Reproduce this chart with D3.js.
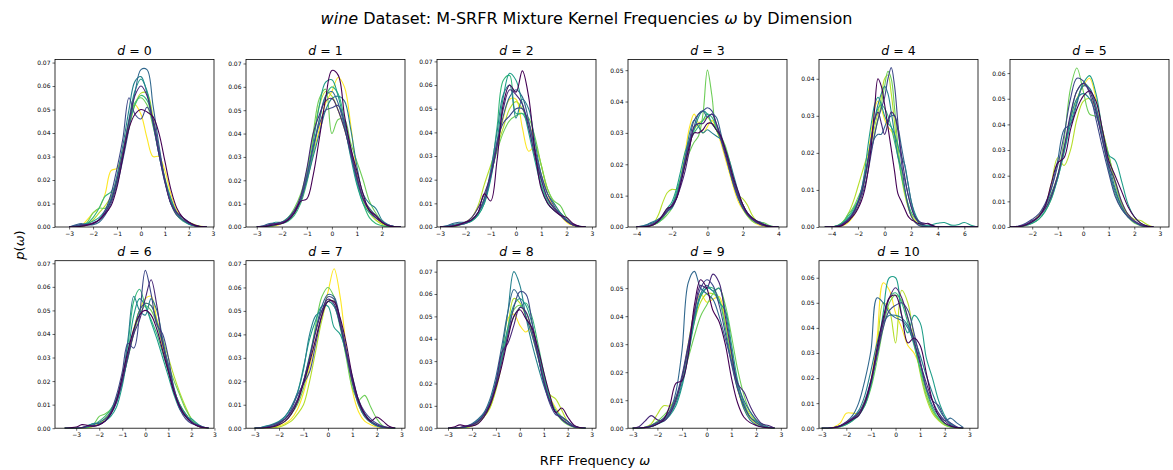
<!DOCTYPE html>
<html>
<head>
<meta charset="utf-8">
<script src="https://cdn.jsdelivr.net/npm/d3@7"></script>
<style>
  body { margin: 0; background: #fff; }
  svg text { font-family: "DejaVu Sans", sans-serif; fill: #000; }
</style>
</head>
<body>
<svg></svg>
<script>
// evaluation grids for the KDE curves (omega)
var gridA = [-3, -2.75, -2.5, -2.25, -2, -1.75, -1.5, -1.25, -1, -0.75, -0.5, -0.25, 0, 0.25, 0.5, 0.75, 1, 1.25, 1.5, 1.75, 2, 2.25, 2.5, 2.75];
var gridD3 = [-4, -3.75, -3.5, -3.25, -3, -2.75, -2.5, -2.25, -2, -1.75, -1.5, -1.25, -1, -0.75, -0.5, -0.25, 0, 0.25, 0.5, 0.75, 1, 1.25, 1.5, 1.75, 2, 2.25, 2.5, 2.75, 3, 3.25, 3.5, 3.75, 4];
var gridD4 = [-4.5, -4.25, -4, -3.75, -3.5, -3.25, -3, -2.75, -2.5, -2.25, -2, -1.75, -1.5, -1.25, -1, -0.75, -0.5, -0.25, 0, 0.25, 0.5, 0.75, 1, 1.25, 1.5, 1.75, 2, 2.25, 2.5, 2.75, 3, 3.25, 3.5, 3.75, 4, 4.5, 5, 5.5, 6, 6.5, 7];
var gridD6 = [-3.5, -3.25, -3, -2.75, -2.5, -2.25, -2, -1.75, -1.5, -1.25, -1, -0.75, -0.5, -0.25, 0, 0.25, 0.5, 0.75, 1, 1.25, 1.5, 1.75, 2, 2.25, 2.5, 2.75];

var dimensions = [0, 1, 2, 3, 4, 5, 6, 7, 8, 9, 10];
var xLimits = [[-3.59, 3.05], [-3.43, 2.92], [-3.12, 3.16], [-4.47, 4.48], [-4.94, 7.03], [-2.87, 3.36],
               [-3.92, 2.98], [-3.35, 3.15], [-3.46, 3.18], [-3.19, 3.25], [-3.11, 3.35]];
var yMax = [0.0713, 0.0717, 0.0708, 0.0534, 0.0452, 0.0653, 0.0711, 0.0714, 0.0749, 0.0598, 0.0668];
var xTicks = [[-3,-2,-1,0,1,2,3], [-3,-2,-1,0,1,2], [-3,-2,-1,0,1,2,3], [-4,-2,0,2,4], [-4,-2,0,2,4,6], [-2,-1,0,1,2,3],
              [-3,-2,-1,0,1,2,3], [-3,-2,-1,0,1,2,3], [-3,-2,-1,0,1,2,3], [-3,-2,-1,0,1,2,3], [-3,-2,-1,0,1,2,3]];
var yTicks = [[0,0.01,0.02,0.03,0.04,0.05,0.06,0.07], [0,0.01,0.02,0.03,0.04,0.05,0.06,0.07], [0,0.01,0.02,0.03,0.04,0.05,0.06,0.07],
              [0,0.01,0.02,0.03,0.04,0.05], [0,0.01,0.02,0.03,0.04], [0,0.01,0.02,0.03,0.04,0.05,0.06],
              [0,0.01,0.02,0.03,0.04,0.05,0.06,0.07], [0,0.01,0.02,0.03,0.04,0.05,0.06,0.07], [0,0.01,0.02,0.03,0.04,0.05,0.06,0.07],
              [0,0.01,0.02,0.03,0.04,0.05], [0,0.01,0.02,0.03,0.04,0.05,0.06]];

// density values p(omega), in units of 1e-3, one row per mixture component
var dens0 = [
  [0,0,0.3,0.8,1.5,3,5.5,9,17,30,42,48,50,49,47,40,28,16,8,4,2,0.8,0.2,0],
  [0,0,0.5,1,1.8,3,6,11,20,32,45,56,60,56,45,31,19,10,6,4,2,0.6,0.1,0],
  [0,0.5,1,1,1.5,3,7,14,25,38,55,48,46,51,46,33,20,10,5,3,1.5,0.5,0.1,0],
  [0,0.8,1.5,1,1,2,5,10,18,29,42,57,67,67,52,35,20,10,6,4,2,0.6,0.1,0],
  [0,0.3,1,1.2,1.5,3,6,12,22,35,50,62,64,57,44,31,20,12,6,3,1.5,0.5,0.1,0],
  [0,0.2,0.8,1.5,2.5,4,7,12,20,32,46,58,63,58,45,31,19,11,6,3,1.2,0.4,0.1,0],
  [0,0,0.5,1.5,4,8,13,15,19,31,43,52,56,54,45,32,20,10,5,2.5,1.2,0.5,0.1,0],
  [0,0,0.5,2,6,8,8,11,19,31,44,53,55,52,43,32,21,12,6,3,1.5,0.6,0.2,0],
  [0,0,0.3,1,3,6,9,13,21,32,42,52,57,57,47,33,20,10,5,3,2,1,0.3,0],
  [0,0,0.5,3,6,8,14,24,25,33,45,52,48,38,30,30,24,14,7,3,1.5,0.6,0.2,0]
];
var dens1 = [
  [0,0,0.5,1,1.5,3,6,11,12,22,38,55,67,65,48,34,24,14,7,5,2,0.5,0.1,0],
  [0,0.3,1,1.5,2,3.5,7,13,25,40,48,54,55,50,42,32,21,12,7,4,2,0.6,0.1,0],
  [0,0.2,0.8,1.5,2,3,6,11,21,34,44,50,51,52,45,34,22,12,7,4,2,0.8,0.2,0],
  [0,0.5,1.5,1.5,1.5,3,6,12,22,34,46,56,58,53,43,31,20,12,8,5,2.5,0.8,0.2,0],
  [0,0.2,0.5,1,2,4,7,12,20,30,40,50,55,56,54,42,26,14,10,8,3,1,0.2,0],
  [0,0.2,1,2,2,3,6,12,22,36,52,62,63,56,44,30,18,10,6,4,2,0.6,0.1,0],
  [0,0,0.3,1,1.5,2.5,5,10,19,32,46,56,60,57,46,32,19,10,4,1.5,0.6,0.2,0,0],
  [0,0,0.2,0.8,2,4,8,14,24,40,55,59,40,46,46,36,28,20,11,6,2.5,0.8,0.2,0],
  [0,0,0.3,1,2,3,6,12,24,38,52,58,56,50,42,32,21,11,6,3,1.2,0.4,0.1,0],
  [0,0,0.2,0.5,1.5,3,6,11,20,31,42,53,58,64,60,44,23,12,8,4,1.5,0.5,0.1,0]
];
var dens2 = [
  [0,0,0.3,1,2,3,6,14,11,28,52,60,57,66,55,32,16,10,7,5,4,1.5,0.3,0],
  [0,0,0.5,1,2,4,8,14,22,34,50,58,56,52,42,30,20,12,8,5,2.5,0.8,0.2,0],
  [0,0.2,0.6,1,1.5,3,6,12,22,36,44,47,50,50,44,33,22,14,9,5,2.5,1,0.3,0],
  [0,0.5,1.5,2,2,3,6,11,21,34,47,55,58,55,45,32,20,12,8,6,3,1,0.3,0],
  [0,0.3,1,1.5,2,3,6,12,24,40,56,60,46,54,50,36,22,14,10,6,3,1,0.2,0],
  [0,0,0.5,1,1.5,2.5,5,10,20,36,55,65,62,52,40,28,17,10,7,5,2.5,0.8,0.2,0],
  [0,0,0.3,0.8,1.5,2.5,5,10,22,42,62,64,48,48,42,30,18,11,8,6,3,1,0.2,0],
  [0,0,0.3,1,2,3,6,12,22,32,40,45,47,48,46,38,26,16,11,9,4,1,0.2,0],
  [0,0,0.2,0.8,2,4,9,18,26,34,42,50,53,50,44,36,26,16,10,6,3,1,0.2,0],
  [0,0,0.3,1,2,3,6,12,22,34,46,54,54,42,32,34,26,14,8,5,2,0.6,0.1,0]
];
var dens3 = [
  [0,0,0.1,0.3,0.8,2,4,6,6.5,9,14,20,26,30,30,31,33,33,31,29,25,20,15,11,7,4.5,3,2,1.2,0.6,0.2,0,0],
  [0,0,0.1,0.4,1,2,3.5,5.5,7,9,13,18,25,32,33,33,35,36,33,29,24,19,14,10,7,4,2.5,1.5,0.8,0.4,0.1,0,0],
  [0,0,0.2,0.5,1.2,2,3.5,5,6.5,9,15,22,28,34,36,37,38,37,33,28,23,18,13,9,6,4,2.5,1.5,0.8,0.4,0.1,0,0],
  [0,0.2,0.5,1,1.5,2.5,3.5,5,7,10,15,21,27,32,36,37,35,36,35,30,24,18,13,9,6,4,3,2,1.5,0.8,0.3,0.1,0],
  [0,0.2,0.6,1.2,1.8,2.5,3.5,5,6,9,14,22,30,34,32,30,31,30,29,28,25,21,16,11,7,4.5,3,2,1,0.5,0.2,0,0],
  [0,0,0.2,0.5,1,2,4,6,8,12,18,24,28,31,35,37,36,33,31,28,24,19,14,10,7,4.5,3,1.8,1,0.5,0.2,0,0],
  [0,0,0.1,0.3,0.8,1.5,3,5,7,11,16,22,27,30,32,34,36,35,32,29,25,19,14,9,6,4,2.5,1.5,0.8,0.4,0.1,0,0],
  [0,0,0.1,0.3,0.8,1.5,2.5,4,6,10,15,20,24,27,29,36,50,42,31,29,26,21,15,10,6,3.5,2,1.2,1.5,1.2,0.5,0.1,0],
  [0,0,0.2,0.5,1.5,4,8,11,12,12,15,20,26,31,33,34,35,33,31,28,24,18,13,10,9,7,4,2,1,0.4,0.1,0,0],
  [0,0,0.1,0.3,0.8,1.5,3,5,7,10,16,24,32,36,33,30,32,34,31,27,22,17,12,8,5.5,3.5,2,1,0.5,0.2,0,0,0]
];
var dens4 = [
  [0,0,0,0,0.1,0.3, 0.8,1.5,2.5,3.5,5,7,10,15, 22,32,40,38,33,27,21,15, 9,7,5,3,2,1.5,1,0.8, 0.8,1,0.6,0.2,0, 0,0,0,0,0,0],
  [0,0,0,0.1,0.3,0.6, 1.2,2,3,4.5,6.5,9,13,18, 24,29,31,28,25,28,31,30, 26,20,14,9,5.5,3,1.8,1.2, 1,0.8,0.5,0.2,0, 0,0,0,0,0,0],
  [0,0,0,0.1,0.2,0.5, 1,1.5,2.5,4,5.5,8,11,15, 20,25,29,32,35,40,43,38, 28,18,11,6,3,1.5,0.6,0.2, 0.1,0,0,0,0, 0,0,0,0,0,0],
  [0,0,0,0.1,0.3,0.6, 1.2,2,3,4.5,7,10,14,18, 21,24,25,25,27,29,30,30, 27,22,17,12,7,3.5,1.5,0.6, 0.2,0.1,0,0,0, 0,0,0,0,0,0],
  [0,0,0,0.1,0.3,0.7, 1.3,2,3,4.5,6.5,9,13,18, 24,29,33,36,38,36,31,25, 19,16,13,9,5.5,3,1.5,0.8, 0.4,0.2,0.1,0,0, 0,0,0,0,0,0],
  [0,0,0,0.1,0.3,0.8, 1.5,2.5,3.5,5,7,10,15,22, 28,33,35,33,30,28,27,25, 22,19,17,12,7,4,2,1, 0.5,0.3,0.5,0.8,1, 1.2,0.5,0.6,1.2,0.5,0],
  [0,0,0,0.2,0.5,1, 1.8,3,4,5.5,7,9,13,18, 24,29,32,33,32,30,27,23, 19,14,10,6.5,4,2.5,1.5,1, 0.5,0.2,0,0,0, 0,0,0,0,0,0],
  [0,0,0,0.2,0.5,1, 2,3.5,4.5,6,8,10,13,17, 21,25,29,33,38,42,40,32, 22,15,10,6,3,1.5,0.8,0.3, 0.1,0,0,0,0, 0,0,0,0,0,0],
  [0,0,0,0.1,0.4,1, 2,3.5,5.5,8,11,14,17,20, 23,27,31,35,40,41,36,28, 20,14,9,5.5,3,1.5,0.8,0.3, 0.1,0,0,0,0, 0,0,0,0,0,0],
  [0,0,0,0,0.1,0.3, 0.6,1.2,2.2,3.5,5.5,8.5,13,19, 26,32,34,32,29,27,26,24, 20,15,10,6,3.5,2,1,0.5, 0.2,0.1,0,0,0, 0,0,0,0,0,0]
];
var dens5 = [
  [0,0,0.2,0.8,2,4,8,17,25,27,38,46,51,53,49,38,26,20,14,8,4,1.5,0.4,0],
  [0,0,0.3,1,2.5,4,7,12,20,31,44,53,56,53,45,34,24,18,10,5,2.5,1,0.3,0],
  [0,0,0.5,1.5,3,5,9,15,24,36,50,58,57,52,42,31,21,12,7,4,2,0.8,0.2,0],
  [0,0,0.3,1,2,4,8,15,26,38,40,48,55,54,47,35,23,14,8,4,2,0.6,0.1,0],
  [0,0,0.2,0.8,2,4,8,13,20,30,42,50,52,50,44,35,25,15,8,4,2,0.8,0.2,0],
  [0,0,0.2,0.6,1.5,3,6,11,19,29,40,49,56,59,52,38,28,26,18,9,4,1.5,0.4,0],
  [0,0,0.2,0.8,2,4,7,12,19,30,43,53,56,54,46,34,22,13,7,4,2,0.8,0.2,0],
  [0,0,0.2,0.6,1.5,3,6,11,20,34,54,62,53,44,43,37,28,17,9,4,1.5,0.5,0.1,0],
  [0,0,0.2,0.8,2,4,8,17,27,24,30,42,49,50,46,38,28,18,10,5,3,2.5,1,0],
  [0,0,0.2,0.8,2,4.5,8,13,20,30,42,50,55,58,50,38,27,17,9,4.5,2,0.8,0.2,0]
];
var dens6 = [
  [0,0.2,0.5,1.5,1.2,0.8,1.5,3,6,12,22,33,42,48,50,48,42,33,24,15,9,5,2.5,1,0.3,0],
  [0,0,0,0.3,1,1,1.5,3,6,11,20,31,40,46,55,63,52,36,25,16,9,5,2.5,1,0.3,0],
  [0,0,0,0.2,0.8,1,1.5,3,7,14,24,36,34,48,67,57,44,40,30,16,8,4,2,1.5,0.5,0],
  [0,0,0,0.2,0.8,1.5,2.5,4,7,12,20,30,41,50,53,52,45,36,27,17,9,5,3,1.5,0.5,0],
  [0,0,0,0.3,1,2,2,3,6,11,20,38,56,50,48,55,50,38,26,16,10,6,3,1,0.3,0],
  [0,0,0,0.2,1,2,2,3,5,9,18,32,48,55,52,45,38,30,22,14,8,5,4,2,0.5,0],
  [0,0,0,0,0.5,1.5,3,5,8,13,22,36,54,59,52,46,40,32,24,16,10,6,3,1,0.3,0],
  [0,0,0,0,0.3,1.5,5,6,8,12,20,30,40,48,52,50,44,36,27,20,14,8,4,1.5,0.4,0],
  [0,0,0,0,0.2,0.8,2,4,7,12,20,31,42,50,53,52,46,38,30,22,15,9,4,1.5,0.4,0],
  [0,0,0,0,0.2,0.8,2,4,7,12,21,31,42,50,55,56,46,34,24,16,10,6,3,1,0.2,0]
];
var dens7 = [
  [0,0,0.2,0.6,1.5,3,6,11,19,28,38,48,54,54,47,36,22,12,6,3,4.8,3,0.8,0],
  [0,0,0.3,0.8,2,4,7,12,20,30,41,50,55,53,44,32,20,11,6,3,1.5,0.6,0.2,0],
  [0,0,0.5,1.5,2.5,4,8,14,19,24,36,48,56,55,45,33,21,12,7,4,2,0.8,0.2,0],
  [0,0,0.5,1.5,2.5,4,7,12,20,30,42,52,57,56,46,32,19,10,5,2.5,1,0.4,0.1,0],
  [0,0.3,1,1.5,2.5,5,9,15,25,40,48,50,54,52,44,33,21,11,5,2.5,1,0.4,0.1,0],
  [0,0.2,0.8,1.8,3,5,9,15,26,38,46,52,52,43,40,32,22,12,6,3,1.2,0.5,0.1,0],
  [0,0,0.3,1,2,4,7,12,20,31,42,50,54,52,43,31,20,11,6,3,1.2,0.5,0.1,0],
  [0,0,0.2,0.6,1.5,3,6,10,17,29,44,56,60,56,44,30,17,12,14,9,4,1,0.2,0],
  [0,0,0,0.2,0.5,1.5,3,6,10,20,33,46,54,54,46,33,20,10,5,2.5,1,0.3,0,0],
  [0,0,0,0.3,1,2,4,8,15,26,38,48,58,68,56,34,16,7,3,1.5,0.6,0.2,0,0]
];
var dens8 = [
  [0,0.5,1.5,1,1,2,5,10,18,28,40,50,53,49,45,36,25,15,7,9,5,1.5,0.3,0],
  [0,0,0.3,0.8,1.5,3,6,11,20,34,38,46,54,52,44,33,21,12,7,4,2,0.8,0.2,0],
  [0,0,0.2,0.8,1.5,3,6,11,19,30,42,54,61,60,48,33,20,11,6,5,3,1,0.2,0],
  [0,0,0.3,1,2,4,7,13,23,37,52,62,58,50,42,32,21,12,7,5,3,1,0.2,0],
  [0,0,0.2,0.6,1.5,3,6,11,20,34,52,70,64,50,38,28,19,12,7,4,2,0.6,0.1,0],
  [0,0,0.3,0.8,1.8,3.5,6.5,12,21,33,45,55,58,55,47,35,23,13,7,4,2,0.8,0.2,0],
  [0,0,0.2,0.6,1.5,3,6,11,20,31,42,50,54,56,50,38,25,14,8,5,3,1,0.2,0],
  [0,0,0.2,0.5,1.2,2.5,5,10,19,31,44,53,55,52,44,33,22,13,7,3.5,1.5,0.5,0.1,0],
  [0,0,0,0.3,1,2.5,5,9,17,29,45,58,56,50,42,32,22,15,13,8,3,1,0.2,0],
  [0,0,0,0.3,1,2.5,5,9,18,32,49,51,46,43,45,36,24,14,9,5,2,0.6,0.1,0]
];
var dens9 = [
  [0,0,0.2,0.6,1.5,3,8,16,17,26,44,53,50,42,38,30,18,9,4,2,1,0.4,0.1,0],
  [0,0.5,2.5,4.5,3,2.5,5,10,18,29,41,51,50,55,52,40,27,16,13,8,4,1.5,1,0],
  [0,0,0.3,1,2,3.5,6,11,19,30,42,50,53,51,44,34,23,14,8,4,2,0.8,0.2,0],
  [0,0,0.3,1,2,3.5,6,13,28,52,56,50,48,46,40,32,24,16,10,6,3,1,0.2,0],
  [0,0,0.2,0.6,1.5,3,5,9,16,27,39,48,51,49,50,42,28,15,7,3,1.2,0.4,0.1,0],
  [0,0,0.2,0.6,1.5,2.5,4.5,8,15,26,38,47,50,49,45,42,30,17,9,4,2.5,1.5,0.4,0],
  [0,0,0.2,0.6,1.5,3,5.5,10,18,29,40,47,50,50,46,36,24,14,8,4,2,0.6,0.1,0],
  [0,0,0.3,1,2.5,4.5,7,11,17,25,33,40,44,48,50,44,33,21,12,6,3,1,0.2,0],
  [0,0,0.3,1.5,5,8,8,11,18,28,38,45,48,48,46,38,26,16,9,5,2.5,1,0.2,0],
  [0,0,0.2,0.8,2,3.5,6,10,18,30,42,48,45,46,47,38,25,14,7,3.5,1.5,0.5,0.1,0]
];
var dens10 = [
  [0,0,0.2,0.8,2,3.5,5,10,19,32,44,52,53,45,34,36,33,22,11,5,2,0.8,0.2,0],
  [0,0,0.3,1,2.5,4,6,10,18,30,42,52,56,52,44,35,26,18,11,6,3,1,0.3,0],
  [0,0,0.3,1,2,3.5,6,11,19,29,40,47,49,50,47,38,27,16,11,9,4,2,0.5,0],
  [0,0,0.3,1,2.5,5,10,19,31,52,50,46,44,43,40,34,26,16,9,5,3,4,2,0.3],
  [0,0,0.3,1,2,4,7,13,23,34,42,45,45,44,41,36,29,21,14,8,4,1.5,0.4,0],
  [0,0,0.2,0.6,1.5,3,5,9,17,30,46,60,60,45,38,45,42,28,20,11,5,1.5,0.3,0],
  [0,0,0.2,0.8,2,3.5,6,10,18,30,43,52,54,50,42,33,24,15,8,4,2,0.6,0.1,0],
  [0,0,0.2,0.6,1.5,3,5.5,9,16,27,40,50,53,51,44,34,23,13,7,3.5,1.5,0.5,0.1,0],
  [0,0,0.2,0.8,2,3.5,6,11,18,32,50,47,34,55,50,36,22,12,6,3,1.2,0.4,0.1,0],
  [0,0,0.5,2,6,6,6,10,19,36,58,55,46,40,33,30,24,14,7,3.5,1.5,0.5,0.1,0]
];

var grids = [gridA, gridA, gridA, gridD3, gridD4, gridA, gridD6, gridA, gridA, gridA, gridA];
var densities = [dens0, dens1, dens2, dens3, dens4, dens5, dens6, dens7, dens8, dens9, dens10];

var width = 1173;
var height = 470;
var left0 = 55, colStep = 191, panelW = 159;
var top0 = 59.5, rowStep = 201.2, panelH = 167.5;

var svg = d3.select('svg')
    .attr('width', width)
    .attr('height', height);

var color = d3.scaleSequential(d3.interpolateViridis).domain([0, 9]);

dimensions.forEach(function(dim, i) {
    var col = i % 6, row = Math.floor(i / 6);
    var g = svg.append('g')
        .attr('transform', 'translate(' + (left0 + col * colStep) + ',' + (top0 + row * rowStep) + ')');

    var xScale = d3.scaleLinear().domain(xLimits[i]).range([0, panelW]);
    var yScale = d3.scaleLinear().domain([0, yMax[i]]).range([panelH, 0]);
    var grid = grids[i];

    g.append('clipPath').attr('id', 'clip' + i)
      .append('rect').attr('width', panelW).attr('height', panelH);

    var line = d3.line()
        .x(function(d, j) { return xScale(grid[j]); })
        .y(function(d) { return yScale(d / 1000); })
        .curve(d3.curveCatmullRom.alpha(0.5));

    // first component drawn last, so it sits on top
    var comps = densities[i].map(function(v, k) { return {k: k, v: v}; }).reverse();
    g.append('g')
        .attr('clip-path', 'url(#clip' + i + ')')
      .selectAll('path')
      .data(comps)
      .join('path')
        .attr('d', function(d) { return line(d.v); })
        .attr('fill', 'none')
        .attr('stroke', function(d) { return color(d.k); })
        .attr('stroke-width', 1.1);

    var xAxis = g.append('g')
        .attr('transform', 'translate(0,' + panelH + ')')
        .call(d3.axisBottom(xScale).tickValues(xTicks[i]).tickFormat(d3.format('d')).tickSize(2.5).tickPadding(2));
    var yAxis = g.append('g')
        .call(d3.axisLeft(yScale).tickValues(yTicks[i]).tickFormat(d3.format('.2f')).tickSize(2.5).tickPadding(2));
    [xAxis, yAxis].forEach(function(ax) {
        ax.select('.domain').remove();
        ax.selectAll('line').attr('stroke', '#000').attr('stroke-width', 0.6);
        ax.selectAll('text').attr('font-family', '"DejaVu Sans"').attr('font-size', 6).attr('fill', '#000');
    });

    g.append('rect')
        .attr('width', panelW)
        .attr('height', panelH)
        .attr('fill', 'none')
        .attr('stroke', '#000')
        .attr('stroke-width', 0.8);

    var title = g.append('text')
        .attr('x', panelW / 2)
        .attr('y', -4.5)
        .attr('text-anchor', 'middle')
        .style('font-size', '12.5px');
    title.append('tspan').style('font-style', 'italic').text('d');
    title.append('tspan').text(' = ' + dim);
});

// figure title
var sup = svg.append('text')
    .attr('x', width / 2)
    .attr('y', 24)
    .attr('text-anchor', 'middle')
    .style('font-size', '16px');
sup.append('tspan').style('font-style', 'italic').text('wine');
sup.append('tspan').text(' Dataset: M-SRFR Mixture Kernel Frequencies ');
sup.append('tspan').style('font-style', 'italic').text('ω');
sup.append('tspan').text(' by Dimension');

// x label
var xl = svg.append('text')
    .attr('x', 595)
    .attr('y', 465)
    .attr('text-anchor', 'middle')
    .style('font-size', '13px');
xl.append('tspan').text('RFF Frequency ');
xl.append('tspan').style('font-style', 'italic').text('ω');

// y label
var yl = svg.append('text')
    .attr('transform', 'translate(24,245) rotate(-90)')
    .attr('text-anchor', 'middle')
    .style('font-size', '13px');
yl.append('tspan').style('font-style', 'italic').text('p');
yl.append('tspan').text('(');
yl.append('tspan').style('font-style', 'italic').text('ω');
yl.append('tspan').text(')');
</script>
</body>
</html>
